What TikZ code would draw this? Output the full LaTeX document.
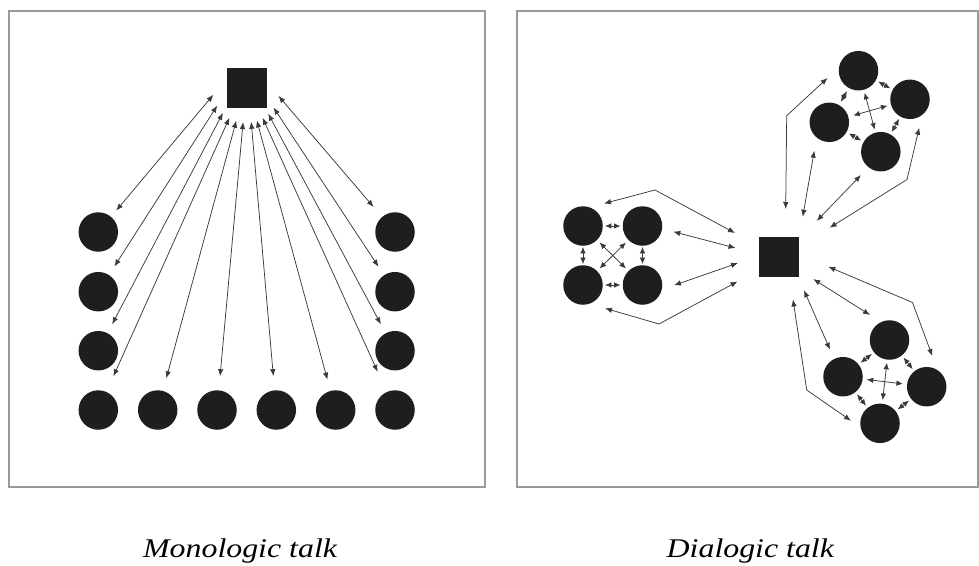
\documentclass[tikz,border=0pt]{standalone}
\usepackage{fontspec}
\setmainfont{Liberation Serif}
\usetikzlibrary{arrows.meta}
\definecolor{ink}{HTML}{1E1E1E}
\definecolor{wire}{HTML}{3A3A3A}
\definecolor{framegray}{HTML}{9A9A9A}
\begin{document}
\begin{tikzpicture}[x=1pt,y=-1pt,
  seat/.style={circle, fill=ink, minimum size=39.5pt, inner sep=0pt},
  desk/.style={rectangle, fill=ink, minimum size=40pt, inner sep=0pt},
  panel/.style={draw=framegray, line width=1.3pt},
  arr/.style={draw=wire, line width=0.75pt,
    {Latex[length=7pt,width=5.5pt]}-{Latex[length=7pt,width=5.5pt]}},
  pair/.style={draw=wire, line width=0.75pt,
    {Latex[length=6.5pt,width=5.5pt]}-{Latex[length=6.5pt,width=5.5pt]},
    shorten <=2pt, shorten >=2pt},
  cross/.style={pair, shorten <=3.5pt, shorten >=3.5pt},
  caption/.style={anchor=base west, inner sep=0pt,
    font=\fontsize{27}{32}\selectfont\itshape}]

\useasboundingbox (0,0) rectangle (979,565);

% panel frames
\draw[panel] (9,11) rectangle (485,487);
\draw[panel] (517,11) rectangle (978,487);

% ---------------- monologic: one speaker, rows of listeners
\node[desk] (teacher) at (247,87.5) {};
\node[circle, minimum size=66pt, inner sep=0pt] (hub) at (246,89) {};

\node[seat] (L1) at (98.3,232) {};
\node[seat] (L2) at (98.3,291.7) {};
\node[seat] (L3) at (98.3,350.7) {};
\node[seat] (B1) at (98.3,410) {};
\node[seat] (B2) at (157.7,410) {};
\node[seat] (B3) at (217,410) {};
\node[seat] (B4) at (276.3,410) {};
\node[seat] (B5) at (335.7,410) {};
\node[seat] (B6) at (395,410) {};
\node[seat] (R3) at (395,350.7) {};
\node[seat] (R2) at (395,291.7) {};
\node[seat] (R1) at (395,232) {};

\foreach \ang/\s/\gap in {-170/L1/8, -150/L2/10, -134/L3/10, -120/B1/17,
    -107/B2/13, -95/B3/14, -81/B4/14, -71/B5/11.5, -60/B6/22,
    -48/R3/10, -34/R2/10, -12/R1/13}
  \draw[arr, shorten >=\gap pt] (hub.\ang) -- (\s);

% ---------------- dialogic: one speaker, three small groups
\node[desk] (lead) at (779,256.5) {};

% west group
\node[seat] (W1) at (583,226) {};
\node[seat] (W2) at (642.5,226) {};
\node[seat] (W3) at (583,285) {};
\node[seat] (W4) at (642.5,285) {};
\draw[pair] (W1) -- (W2);
\draw[pair] (W3) -- (W4);
\draw[pair, shorten <=1pt, shorten >=1pt] (W1) -- (W3);
\draw[pair, shorten <=1pt, shorten >=1pt] (W2) -- (W4);
\draw[cross] (W1) -- (W4);
\draw[cross] (W2) -- (W3);

% north group
\node[seat] (N1) at (858.5,70.7) {};
\node[seat] (N2) at (910,99.3) {};
\node[seat] (N3) at (829.3,122.3) {};
\node[seat] (N4) at (880.8,151.7) {};
\draw[pair, shorten <=2.5pt, shorten >=2.5pt] (N1) -- (N2);
\draw[pair, shorten <=3.5pt, shorten >=3.5pt] (N1) -- (N3);
\draw[pair, shorten <=2.5pt, shorten >=2.5pt] (N2) -- (N4);
\draw[pair, shorten <=2.5pt, shorten >=2.5pt] (N3) -- (N4);
\draw[cross, shorten <=5pt, shorten >=3.5pt] (N3) -- (N2);
\draw[cross, shorten <=3pt, shorten >=3pt] (N1) -- (N4);

% south group
\node[seat] (S1) at (889.5,340) {};
\node[seat] (S2) at (843,376.7) {};
\node[seat] (S3) at (926.7,386.7) {};
\node[seat] (S4) at (880,423.3) {};
\draw[pair, shorten <=2.5pt, shorten >=2.5pt] (S1) -- (S2);
\draw[pair, shorten <=2.5pt, shorten >=2.5pt] (S1) -- (S3);
\draw[pair, shorten <=2.5pt, shorten >=2.5pt] (S2) -- (S4);
\draw[pair, shorten <=2.5pt, shorten >=2.5pt] (S3) -- (S4);
\draw[cross, shorten <=4pt, shorten >=4pt] (S2) -- (S3);
\draw[cross, shorten <=3pt, shorten >=3.5pt] (S1) -- (S4);

% speaker <-> west group
\coordinate (wa1) at (604,203.5);  \coordinate (wb1) at (655,190);
\coordinate (wc1) at (735,233);
\coordinate (wa2) at (673.3,231.7); \coordinate (wc2) at (735.5,248);
\coordinate (wa3) at (674,285.3);  \coordinate (wc3) at (738,263);
\coordinate (wa4) at (605,308.3);  \coordinate (wb4) at (659,324);
\coordinate (wc4) at (737.5,281.5);
\draw[arr] (wa1) -- (wb1) -- (wc1);
\draw[arr] (wa2) -- (wc2);
\draw[arr] (wa3) -- (wc3);
\draw[arr] (wa4) -- (wb4) -- (wc4);

% speaker <-> north group
\coordinate (na1) at (785.7,209);  \coordinate (nb1) at (786.7,115.7);
\coordinate (nc1) at (827.5,78);
\coordinate (na2) at (802.7,216.7); \coordinate (nc2) at (814.3,150.7);
\coordinate (na3) at (816.7,221);  \coordinate (nc3) at (861,175);
\coordinate (na4) at (829.7,227.7); \coordinate (nb4) at (907,179.5);
\coordinate (nc4) at (919.2,127.8);
\draw[arr] (na1) -- (nb1) -- (nc1);
\draw[arr] (na2) -- (nc2);
\draw[arr] (na3) -- (nc3);
\draw[arr] (na4) -- (nb4) -- (nc4);

% speaker <-> south group
\coordinate (sa1) at (828.3,266.7); \coordinate (sb1) at (912.5,302.5);
\coordinate (sc1) at (932.3,356);
\coordinate (sa2) at (813.3,279);  \coordinate (sc2) at (870,315);
\coordinate (sa3) at (804,290.3);  \coordinate (sc3) at (830,349.7);
\coordinate (sa4) at (793,299.5);  \coordinate (sb4) at (806.7,390);
\coordinate (sc4) at (851,420.7);
\draw[arr] (sa1) -- (sb1) -- (sc1);
\draw[arr] (sa2) -- (sc2);
\draw[arr] (sa3) -- (sc3);
\draw[arr] (sa4) -- (sb4) -- (sc4);

% captions
\node[caption] (monocap) at (143,557) {\scalebox{1.18}[1]{Monologic talk}};
\node[caption] (dialcap) at (666.5,557) {\scalebox{1.18}[1]{Dialogic talk}};
\end{tikzpicture}
\end{document}
